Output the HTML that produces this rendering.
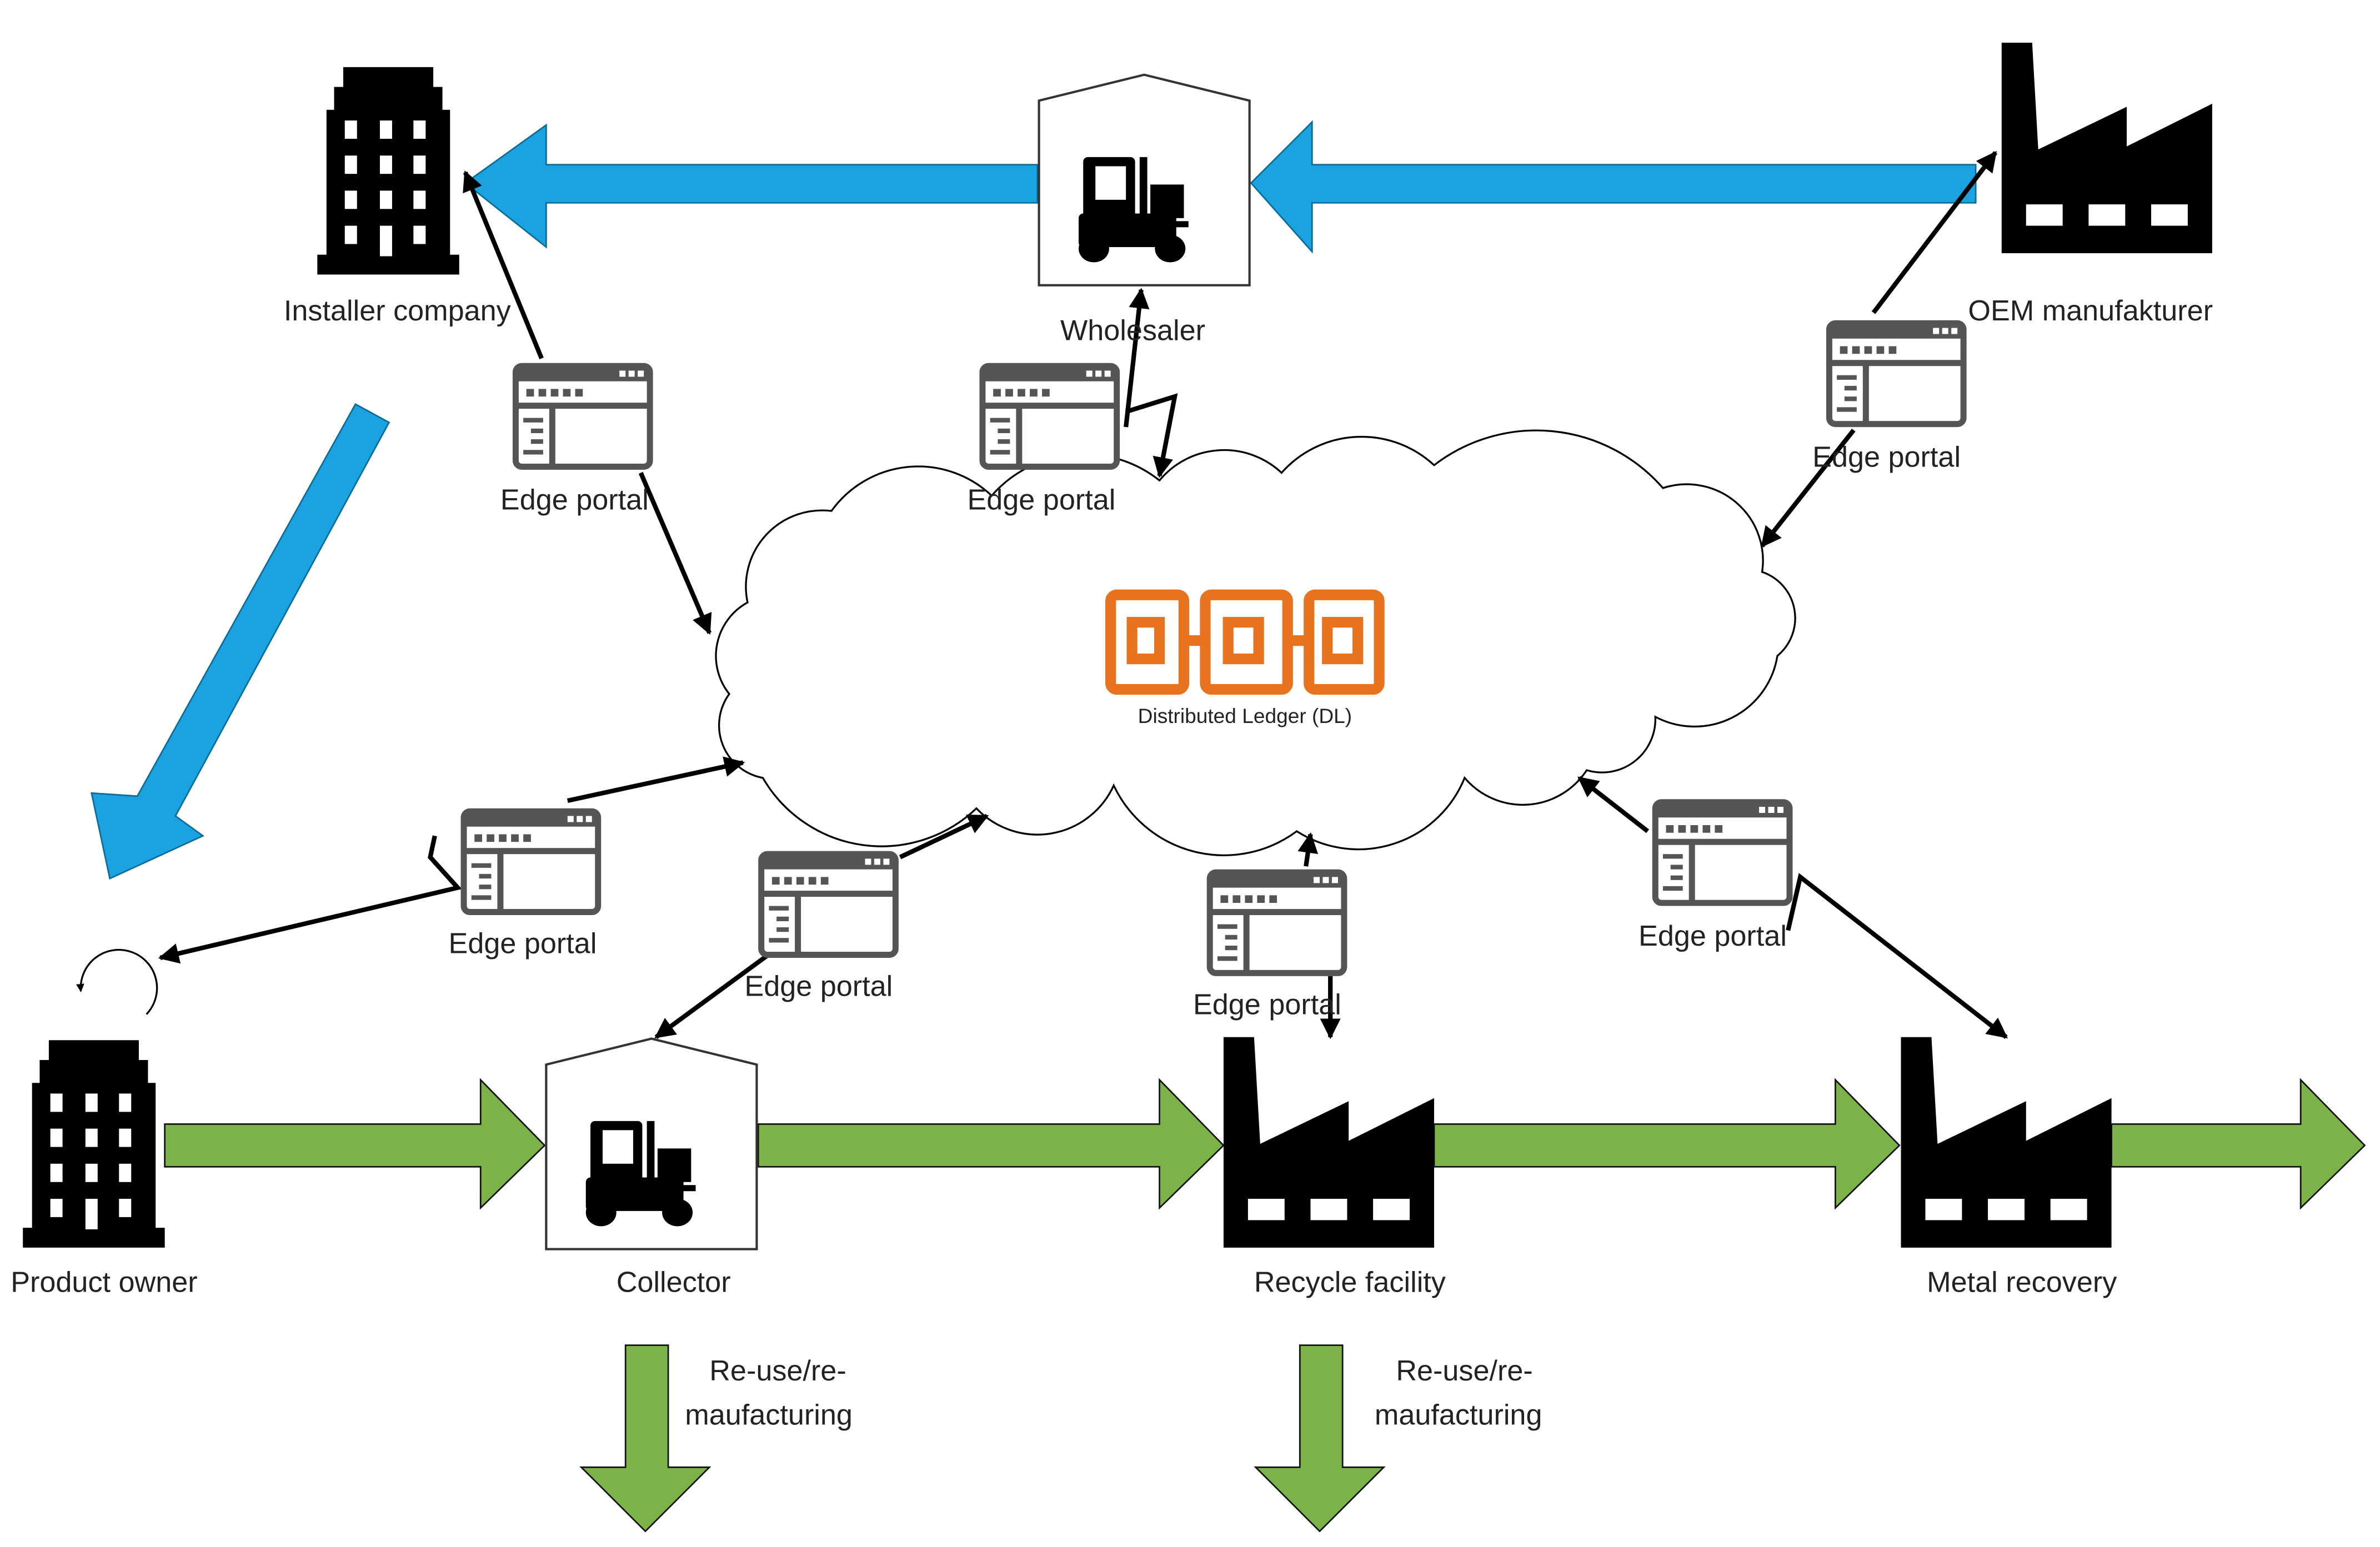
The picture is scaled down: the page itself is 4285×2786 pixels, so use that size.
<!DOCTYPE html>
<html><head><meta charset="utf-8"><style>
html,body{margin:0;padding:0;background:#fff;}
svg{display:block;}
text{font-family:"Liberation Sans",sans-serif;fill:#222;}
</style></head><body>
<svg width="4285" height="2786" viewBox="0 0 1560 1014.3" preserveAspectRatio="none" xmlns="http://www.w3.org/2000/svg">
<defs>
<marker id="ah" viewBox="0 0 10 10" refX="9" refY="5" markerWidth="4.5" markerHeight="4.5" orient="auto-start-reverse"><path d="M0,0 L10,5 L0,10 z" fill="#000"/></marker>
<g id="portal">
<rect x="2" y="2" width="88" height="66" rx="4" fill="#fff" stroke="#555" stroke-width="4"/>
<rect x="2" y="2" width="88" height="10" fill="#555"/>
<rect x="70" y="5" width="4" height="4" fill="#fff"/><rect x="76" y="5" width="4" height="4" fill="#fff"/><rect x="82" y="5" width="4" height="4" fill="#fff"/>
<rect x="9" y="17" width="5" height="5" fill="#555"/><rect x="17" y="17" width="5" height="5" fill="#555"/><rect x="25" y="17" width="5" height="5" fill="#555"/><rect x="33" y="17" width="5" height="5" fill="#555"/><rect x="41" y="17" width="5" height="5" fill="#555"/>
<rect x="2" y="26" width="88" height="4" fill="#555"/>
<rect x="24" y="28" width="4" height="40" fill="#555"/>
<rect x="7" y="36" width="13" height="3" fill="#555"/><rect x="12" y="43" width="8" height="3" fill="#555"/><rect x="12" y="50" width="8" height="3" fill="#555"/><rect x="7" y="57" width="13" height="3" fill="#555"/>
</g>
<g id="bldg">
<rect x="0" y="125" width="93" height="13" fill="#000"/>
<rect x="6" y="30" width="81" height="96" fill="#000"/>
<rect x="11" y="15" width="71" height="16" fill="#000"/>
<rect x="17" y="2" width="59" height="14" fill="#000"/>
<g fill="#fff">
<rect x="18" y="37" width="8" height="12"/><rect x="41" y="37" width="8" height="12"/><rect x="63" y="37" width="8" height="12"/>
<rect x="18" y="60" width="8" height="12"/><rect x="41" y="60" width="8" height="12"/><rect x="63" y="60" width="8" height="12"/>
<rect x="18" y="83" width="8" height="12"/><rect x="41" y="83" width="8" height="12"/><rect x="63" y="83" width="8" height="12"/>
<rect x="18" y="106" width="8" height="12"/><rect x="41" y="106" width="8" height="20"/><rect x="63" y="106" width="8" height="12"/>
</g></g>
<g id="fact">
<polygon points="0,138 0,0 20,0 24,70 82,42 82,68 138,40 138,138" fill="#000"/>
<rect x="16" y="106" width="24" height="14" fill="#fff"/><rect x="57" y="106" width="24" height="14" fill="#fff"/><rect x="98" y="106" width="24" height="14" fill="#fff"/>
</g>
<g id="wh">
<polygon points="1,18 70,1 139,18 139,139 1,139" fill="#fff" stroke="#333" stroke-width="1.5"/>
<rect x="30" y="55" width="34" height="42" rx="3" fill="#000"/>
<rect x="38" y="61" width="20" height="22" fill="#fff"/>
<rect x="67" y="55" width="5" height="55" fill="#000"/>
<rect x="74" y="73" width="22" height="22" fill="#000"/>
<rect x="72" y="97" width="27" height="4" fill="#000"/>
<rect x="27" y="92" width="64" height="22" rx="3" fill="#000"/>
<ellipse cx="37" cy="115" rx="10" ry="9" fill="#000"/><ellipse cx="87" cy="115" rx="10" ry="9" fill="#000"/>
</g>
</defs>

<polygon points="680,108 358,108 358,82 305,120 358,162 358,133 680,133" fill="#1AA3E0" stroke="#0c6c98" stroke-width="1"/>
<polygon points="1295,108 860,108 860,80 820,120 860,165 860,133 1295,133" fill="#1AA3E0" stroke="#0c6c98" stroke-width="1"/>
<polygon points="233,265 255,277 115,535 133,548 72,576 60,520 90,522" fill="#1AA3E0" stroke="#0c6c98" stroke-width="1"/>

<g fill="#7DB248" stroke="#111" stroke-width="1">
<polygon points="108,737 315,737 315,708 357,751 315,792 315,765 108,765"/>
<polygon points="497,737 760,737 760,708 802,751 760,792 760,765 497,765"/>
<polygon points="940,737 1203,737 1203,708 1245,751 1203,792 1203,765 940,765"/>
<polygon points="1384,737 1508,737 1508,708 1550,751 1508,792 1508,765 1384,765"/>
<polygon points="410,882 438,882 438,962 465,962 423,1004 381,962 410,962"/>
<polygon points="852,882 880,882 880,962 907,962 865,1004 823,962 852,962"/>
</g>

<path d="M490,395 A50,50 0 0 1 545,335 A70,70 0 0 1 650,325 A80,80 0 0 1 760,315 A55,55 0 0 1 840,310 A70,70 0 0 1 940,305 A110,110 0 0 1 1090,320 A50,50 0 0 1 1155,375 A32,32 0 0 1 1165,430 A55,55 0 0 1 1085,470 A35,35 0 0 1 1040,505 A50,50 0 0 1 960,510 A75,75 0 0 1 850,545 A80,80 0 0 1 730,515 A55,55 0 0 1 640,530 A90,90 0 0 1 500,510 A35,35 0 0 1 478,455 A40,40 0 0 1 490,395 Z" fill="#fff" stroke="#000" stroke-width="1.2"/>

<g fill="none" stroke="#E8731F" stroke-width="7">
<rect x="728" y="390" width="48" height="62" rx="4"/><rect x="742" y="408" width="18" height="24"/>
<rect x="790" y="390" width="54" height="62" rx="4"/><rect x="805" y="408" width="20" height="24"/>
<rect x="858" y="390" width="46" height="62" rx="4"/><rect x="870" y="408" width="20" height="24"/>
<line x1="776" y1="420" x2="790" y2="420"/><line x1="844" y1="420" x2="858" y2="420"/>
</g>
<text x="816" y="474" font-size="13.5" text-anchor="middle">Distributed Ledger (DL)</text>

<use href="#bldg" x="208" y="42"/>
<use href="#bldg" x="15" y="680"/>
<use href="#fact" x="1312" y="28"/>
<use href="#fact" x="802" y="680"/>
<use href="#fact" x="1246" y="680"/>
<use href="#wh" x="680" y="48"/>
<use href="#wh" x="357" y="680"/>

<g stroke="#000" stroke-width="3" fill="none" marker-end="url(#ah)">
<line x1="355" y1="235" x2="305" y2="113"/>
<line x1="420" y1="310" x2="465" y2="415"/>
<polyline points="738,280 748,190"/>
<polyline points="738,270 770,260 760,312"/>
<line x1="1228" y1="205" x2="1308" y2="100"/>
<line x1="1215" y1="282" x2="1155" y2="358"/>
<line x1="372" y1="525" x2="487" y2="500"/>
<polyline points="285,548 282,562 300,582 105,628"/>
<line x1="590" y1="562" x2="647" y2="535"/>
<line x1="505" y1="625" x2="430" y2="680"/>
<line x1="856" y1="568" x2="859" y2="547"/>
<line x1="872" y1="640" x2="872" y2="680"/>
<line x1="1080" y1="545" x2="1035" y2="510"/>
<polyline points="1172,610 1180,575 1315,680"/>
</g>
<path d="M96,665 A25,25 0 1 0 53,650" stroke="#000" stroke-width="1.2" fill="none" marker-end="url(#ah)"/>

<use href="#portal" x="336" y="238"/>
<use href="#portal" x="642" y="238"/>
<use href="#portal" x="1197" y="210"/>
<use href="#portal" x="302" y="530"/>
<use href="#portal" x="497" y="558"/>
<use href="#portal" x="791" y="570"/>
<use href="#portal" x="1083" y="524"/>

<g font-size="19">
<text x="186" y="210">Installer company</text>
<text x="695" y="223">Wholesaler</text>
<text x="1290" y="210">OEM manufakturer</text>
<text x="328" y="334">Edge portal</text>
<text x="634" y="334">Edge portal</text>
<text x="1188" y="306">Edge portal</text>
<text x="294" y="625">Edge portal</text>
<text x="488" y="653">Edge portal</text>
<text x="782" y="665">Edge portal</text>
<text x="1074" y="620">Edge portal</text>
<text x="7" y="847">Product owner</text>
<text x="404" y="847">Collector</text>
<text x="822" y="847">Recycle facility</text>
<text x="1263" y="847">Metal recovery</text>
<text x="465" y="905">Re-use/re-</text>
<text x="449" y="934">maufacturing</text>
<text x="915" y="905">Re-use/re-</text>
<text x="901" y="934">maufacturing</text>
</g>
</svg>
</body></html>
